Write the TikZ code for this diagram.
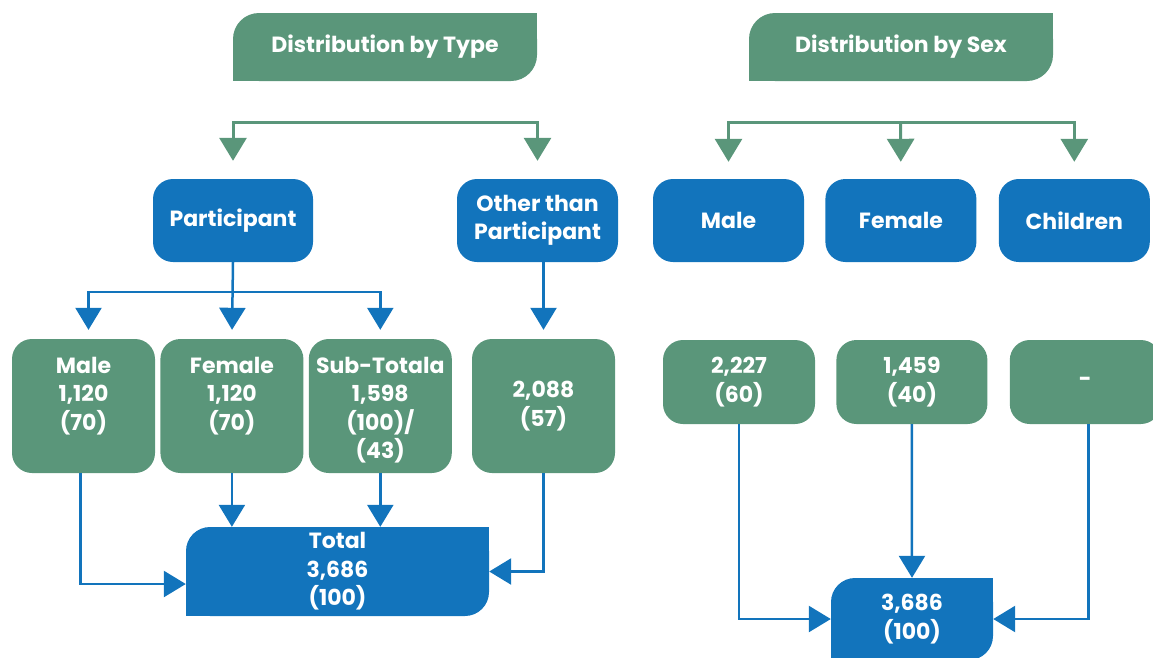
\documentclass[tikz,border=0pt]{standalone}
\usepackage{fontspec}
\setmainfont{Poppins}
\usetikzlibrary{arrows.meta,positioning,backgrounds}
\definecolor{grn}{RGB}{90,150,122}
\definecolor{blu}{RGB}{18,116,188}
\newcommand{\toptext}[1]{\parbox[c][134pt][t]{140pt}{\vspace*{18pt}\centering #1}}
\tikzset{
  lbl/.style={text=white, font=\bfseries\fontsize{22}{28.5}\selectfont, align=center, inner sep=0pt},
  head/.style={lbl, fill=grn, rounded corners=26pt, minimum width=304pt, minimum height=68pt}, % header tabs
  catbox/.style={lbl, fill=blu, rounded corners=20pt, minimum height=83pt}, % blue categories
  valbox/.style={lbl, fill=grn, rounded corners=20pt}, % green values
  totbox/.style={lbl, fill=blu, rounded corners=24pt},
  garrow/.style={draw=grn, line width=3pt, -{Triangle[length=23pt,width=27pt]}},
  barrow/.style={draw=blu, line width=2.5pt, -{Triangle[length=22pt,width=26pt]}}
}

\begin{document}
\begin{tikzpicture}[x=1pt, y=-1pt]
    \useasboundingbox (0,0) rectangle (1153,657);

    % Headers
    \node[head] (hType) at (385,47) {Distribution by Type};
    \node[head] (hSex) at (901,47) {Distribution by Sex};

    % Categories
    \node[catbox, minimum width=160pt] (part) at (233,220.5) {Participant};
    \node[catbox, minimum width=161pt] (other) at (537.5,220.5) {Other than\\Participant};
    \node[catbox, minimum width=151pt] (sM) at (728.5,220.5) {Male};
    \node[catbox, minimum width=151pt] (sF) [right=21pt of sM] {Female};
    \node[catbox, minimum width=151pt] (sC) [right=22pt of sF] {Children};

    % Values by type
    \node[valbox, minimum width=143pt, minimum height=134pt] (gM) at (83.5,406) {\toptext{Male\\1,120\\(70)}};
    \node[valbox, minimum width=143pt, minimum height=134pt] (gF) [right=5pt of gM] {\toptext{Female\\1,120\\(70)}};
    \node[valbox, minimum width=143pt, minimum height=134pt] (gS) [right=5pt of gF] {\toptext{Sub-Totala\\1,598\\(100)/\\(43)}};
    \node[valbox, minimum width=143pt, minimum height=134pt] (gO) at (543.5,406) {2,088\\(57)};

    % Values by sex
    \node[valbox, minimum width=152pt, minimum height=84pt] (vM) at (739,382) {2,227\\(60)};
    \node[valbox, minimum width=151pt, minimum height=84pt] (vF) [right=21pt of vM] {1,459\\(40)};
    \node[valbox, minimum width=151pt, minimum height=84pt] (vC) [right=22pt of vF] {-};

    % Totals
    \node[totbox, minimum width=303pt, minimum height=89pt] (tot) at (337.5,571.5) {Total\\3,686\\(100)};
    \node[totbox, minimum width=162pt, minimum height=82pt] (totS) at (912,619) {3,686\\(100)};

    % square corners of tabs
    \begin{scope}[on background layer]
        \foreach \n/\c in {hType/grn, hSex/grn, tot/blu, totS/blu} {
            \fill[\c] (\n.north east) rectangle ++(-30,30);
            \fill[\c] (\n.south west) rectangle ++(30,-30);
        }
    \end{scope}

    % Header branches
    \coordinate (bT) at (385,122);
    \coordinate (bS) at (900.5,122);
    \draw[garrow, shorten >=18pt] (bT) -| (part.north);
    \draw[garrow, shorten >=18pt] (bT) -| (other.north);
    \draw[garrow, shorten >=17pt] (bS) -| (sM.north);
    \draw[garrow, shorten >=17pt] (bS) -- (sF.north);
    \draw[garrow, shorten >=17pt] (bS) -| (sC.north);

    % Category branches
    \draw[barrow, shorten >=9pt] (part.south) -- ++(0,30) -| ([xshift=5pt]gM.north);
    \draw[barrow, shorten >=9pt] (part.south) -- (gF.north);
    \draw[barrow, shorten >=9pt] (part.south) -- ++(0,30) -| (gS.north);
    \draw[barrow, shorten >=9pt] (other.south -| gO.north) -- (gO.north);

    % To totals
    \draw[barrow] ([xshift=-3pt]gM.south) |- ([yshift=-12.5pt]tot.west);
    \draw[barrow] (gF.south) -- (gF.south |- tot.north);
    \draw[barrow] (gS.south) -- (gS.south |- tot.north);
    \draw[barrow] (gO.south) |- (tot.east);
    \draw[barrow] (vM.south) |- (totS.west);
    \draw[barrow] (vF.south) -- (totS.north);
    \draw[barrow] ([xshift=3pt]vC.south) |- (totS.east);
\end{tikzpicture}
\end{document}
